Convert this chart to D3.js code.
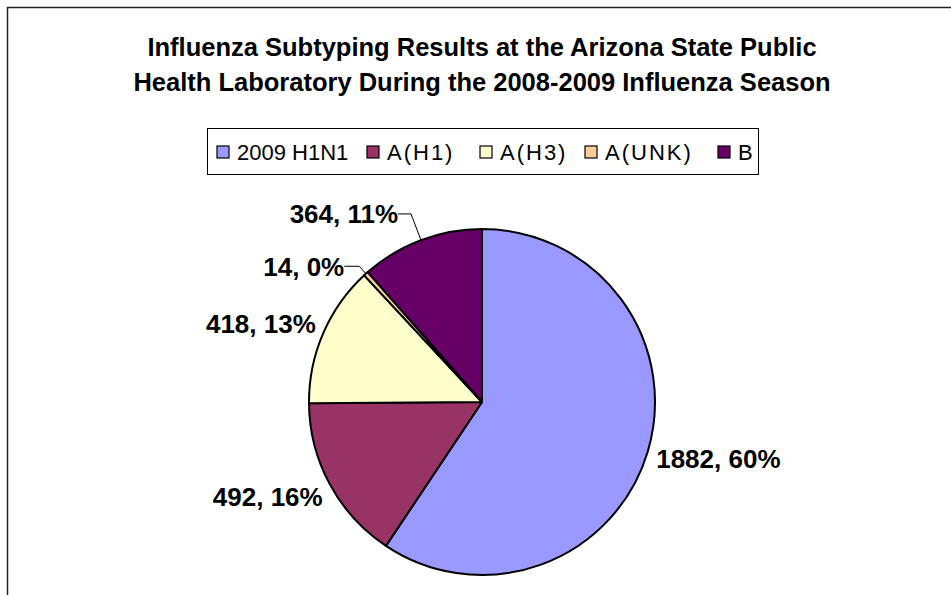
<!DOCTYPE html>
<html><head><meta charset="utf-8">
<script src="https://cdn.jsdelivr.net/npm/d3@7"></script>
<style>body{margin:0;background:#fff}svg{display:block}text{font-family:"Liberation Sans",Arial,sans-serif}</style>
</head><body>
<svg id="c" width="951" height="595"></svg>
<script>
const categories = ["2009 H1N1", "A(H1)", "A(H3)", "A(UNK)", "B"];
const counts = [1882, 492, 418, 14, 364];
const percents = ["60%", "16%", "13%", "0%", "11%"];
const colors = ["#9999FF", "#993366", "#FFFFCC", "#FFCC99", "#660066"];
const titleLines = ["Influenza Subtyping Results at the Arizona State Public",
                    "Health Laboratory During the 2008-2009 Influenza Season"];

// label layout (rendering config): radius, dy, leader elbow
const labelLayout = [
  {r: 182, dy: 4, anchor: "start"},
  {r: 181, dy: 9, anchor: "end"},
  {r: 181, dy: -7, anchor: "end"},
  {r: 183, dy: 0, anchor: "end", leader: 15},
  {r: 201, dy: 0, anchor: "end", leader: 13}
];
// legend layout (rendering config)
const legendX = [217, 367, 480, 585, 718];

const svg = d3.select("#c");
const cx = 482, cy = 402, R = 173;

// outer frame
svg.append("rect").attr("x", 7.5).attr("y", 7.5).attr("width", 2000).attr("height", 2000)
  .attr("fill", "none").attr("stroke", "#222").attr("stroke-width", 1.5);

// title
svg.append("g").selectAll("text").data(titleLines).join("text")
  .attr("x", cx).attr("y", (d, i) => 56 + i * 35)
  .attr("text-anchor", "middle").attr("font-weight", "bold").attr("font-size", 25.5)
  .text(d => d);

// legend
const lg = svg.append("g");
lg.append("rect").attr("x", 207.5).attr("y", 128.5).attr("width", 551).attr("height", 46)
  .attr("fill", "#fff").attr("stroke", "#000").attr("stroke-width", 1);
const items = lg.selectAll("g.it").data(categories).join("g").attr("class", "it")
  .attr("transform", (d, i) => `translate(${legendX[i]},152)`);
items.append("rect").attr("x", 0).attr("y", -6).attr("width", 12).attr("height", 12)
  .attr("fill", (d, i) => colors[i]).attr("stroke", "#000").attr("stroke-width", 1.2);
items.append("text").attr("x", 20).attr("y", 8).attr("font-size", 22)
  .attr("letter-spacing", d => d.includes("(") ? 2 : 0).text(d => d);

// pie
const pie = d3.pie().sort(null).value(d => d)(counts);
const arc = d3.arc().innerRadius(0).outerRadius(R);
const g = svg.append("g").attr("transform", `translate(${cx},${cy})`);
g.selectAll("path").data(pie).join("path")
  .attr("d", arc).attr("fill", (d, i) => colors[i])
  .attr("stroke", "#000").attr("stroke-width", 2).attr("stroke-linejoin", "round");

// labels
const polar = (a, r) => [r * Math.sin(a), -r * Math.cos(a)];
pie.forEach((d, i) => {
  const L = labelLayout[i];
  const mid = (d.startAngle + d.endAngle) / 2;
  let [x, y] = polar(mid, L.r);
  if (L.leader) {
    const [ex, ey] = polar(mid, R);
    g.append("polyline")
      .attr("points", `${ex},${ey} ${x},${y} ${x - L.leader},${y}`)
      .attr("fill", "none").attr("stroke", "#000").attr("stroke-width", 1);
    x = x - L.leader;
  }
  g.append("text").attr("x", x).attr("y", y + L.dy).attr("dy", "0.36em")
    .attr("text-anchor", L.anchor).attr("font-weight", "bold").attr("font-size", 26)
    .text(`${counts[i]}, ${percents[i]}`);
});
</script>
</body></html>
